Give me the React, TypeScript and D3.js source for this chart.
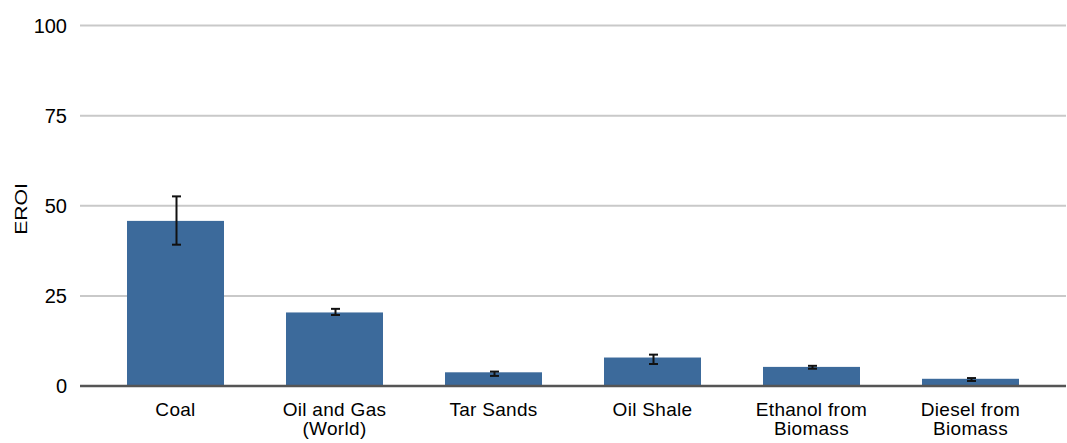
import React from "react";
import * as d3 from "d3";

const categories: string[][] = [
  ["Coal"],
  ["Oil and Gas", "(World)"],
  ["Tar Sands"],
  ["Oil Shale"],
  ["Ethanol from", "Biomass"],
  ["Diesel from", "Biomass"],
];
const values = [45.8, 20.4, 3.8, 7.9, 5.3, 2.0];
const errLow = [39.2, 19.7, 2.8, 6.1, 4.8, 1.4];
const errHigh = [52.6, 21.4, 4.0, 8.7, 5.6, 2.2];
const yTicks = [0, 25, 50, 75, 100];

const W = 1067;
const H = 443;

export default function App() {
  const y = d3.scaleLinear().domain([0, 100]).range([386, 25.5]);
  const x = d3
    .scaleBand<number>()
    .domain(categories.map((_, i) => i))
    .range([96, 1050])
    .paddingInner(0.39)
    .paddingOuter(0.195);
  const font = "'Liberation Sans', Arial, Helvetica, sans-serif";
  return (
    <svg
      width={W}
      height={H}
      style={{ position: "absolute", left: 0, top: 0, background: "#fff" }}
      fontFamily={font}
    >
      {yTicks.map((t) => (
        <g key={t}>
          {t !== 0 && (
            <line x1={80} x2={1066} y1={y(t)} y2={y(t)} stroke="#c9c9c9" strokeWidth={2} />
          )}
          <text x={67} y={y(t)} dy="0.35em" textAnchor="end" fontSize={20} fill="#000">
            {t}
          </text>
        </g>
      ))}
      <text
        transform={`translate(27,209) rotate(-90) scale(1.32,1)`}
        textAnchor="middle"
        fontSize={16}
        fill="#000"
      >
        EROI
      </text>
      {values.map((v, i) => (
        <rect
          key={i}
          x={x(i)}
          y={y(v)}
          width={x.bandwidth()}
          height={y(0) - y(v)}
          fill="#3c6a9b"
        />
      ))}
      <line x1={80} x2={1066} y1={y(0)} y2={y(0)} stroke="#555" strokeWidth={2.5} />
      {values.map((v, i) => {
        const cx = (x(i) as number) + x.bandwidth() / 2 + 1;
        return (
          <g key={i} stroke="#111" strokeWidth={2}>
            <line x1={cx} x2={cx} y1={y(errLow[i])} y2={y(errHigh[i])} />
            <line x1={cx - 4.5} x2={cx + 4.5} y1={y(errLow[i])} y2={y(errLow[i])} />
            <line x1={cx - 4.5} x2={cx + 4.5} y1={y(errHigh[i])} y2={y(errHigh[i])} />
          </g>
        );
      })}
      {categories.map((lines, i) => {
        const cx = (x(i) as number) + x.bandwidth() / 2;
        return (
          <text key={i} textAnchor="middle" fontSize={19} letterSpacing={0.3} fill="#000">
            {lines.map((l, j) => (
              <tspan key={j} x={cx} y={416 + j * 19}>
                {l}
              </tspan>
            ))}
          </text>
        );
      })}
    </svg>
  );
}
